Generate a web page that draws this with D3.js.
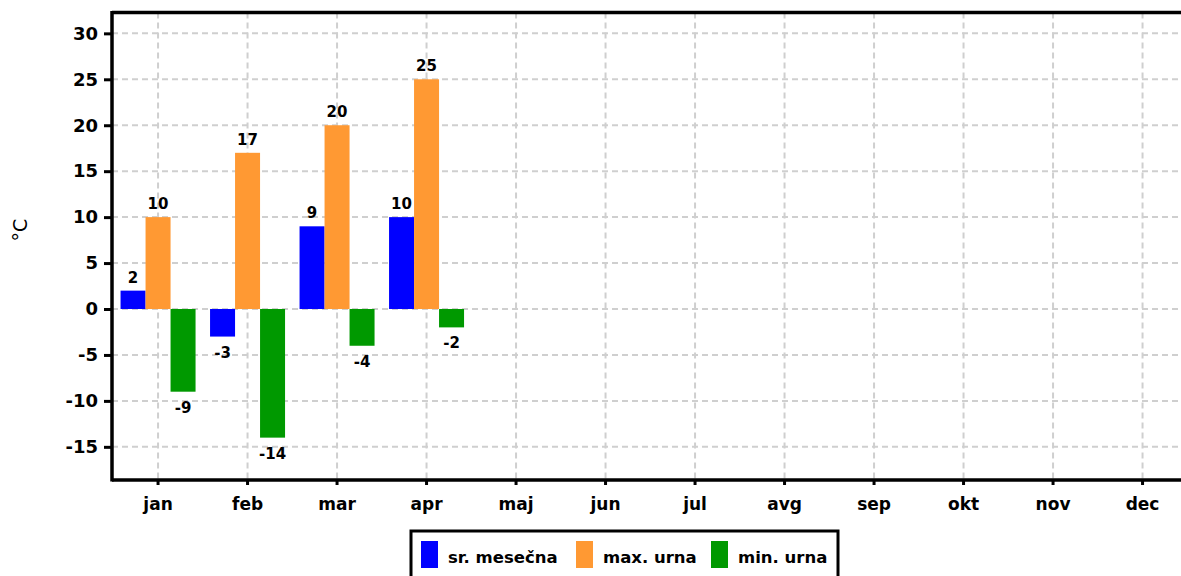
<!DOCTYPE html>
<html>
<head>
<meta charset="utf-8">
<script src="https://cdn.jsdelivr.net/npm/d3@7"></script>
<style>
  body { margin: 0; background: #fff; }
  text { font-family: "DejaVu Sans", sans-serif; }
</style>
</head>
<body>
<div id="viz"></div>
<script>
const months = ['jan', 'feb', 'mar', 'apr', 'maj', 'jun', 'jul', 'avg', 'sep', 'okt', 'nov', 'dec'];
const seriesNames = ['sr. mesečna', 'max. urna', 'min. urna'];
const avgTemp = [2, -3, 9, 10];
const maxTemp = [10, 17, 20, 25];
const minTemp = [-9, -14, -4, -2];
const yTicks = [-15, -10, -5, 0, 5, 10, 15, 20, 25, 30];
const colors = ['#0000ff', '#ff9933', '#009900'];

const width = 1181;
const height = 576;
const plotLeft = 112;
const plotTop = 12.5;
const plotBottom = 480;

const svg = d3.select('#viz')
      .append('svg')
      .attr('width', width)
      .attr('height', height);

const x0 = d3.scaleBand()
      .domain(months)
      .range([113.3, 1187.3]);

const bw = x0.bandwidth();
const groupW = 75;
const x1 = d3.scaleBand()
      .domain(seriesNames)
      .range([(bw - groupW) / 2, (bw + groupW) / 2]);

const y = d3.scaleLinear()
      .domain([-18.61, 32.27])
      .range([plotBottom, plotTop]);

// grid
const grid = svg.append('g')
      .attr('stroke', '#cfcfcf')
      .attr('stroke-width', 2)
      .attr('stroke-dasharray', '6,4');

grid.selectAll('line.h')
    .data(yTicks)
    .join('line')
    .attr('class', 'h')
    .attr('x1', plotLeft)
    .attr('x2', width)
    .attr('y1', d => y(d))
    .attr('y2', d => y(d));

grid.selectAll('line.v')
    .data(months)
    .join('line')
    .attr('class', 'v')
    .attr('x1', d => x0(d) + bw / 2)
    .attr('x2', d => x0(d) + bw / 2)
    .attr('y1', plotTop)
    .attr('y2', plotBottom);

// bars
const rows = [];
months.forEach((m, i) => {
  [avgTemp, maxTemp, minTemp].forEach((arr, s) => {
    if (arr[i] !== undefined) rows.push({ month: m, series: seriesNames[s], value: arr[i], color: colors[s] });
  });
});

svg.append('g')
    .selectAll('rect')
    .data(rows)
    .join('rect')
    .attr('x', d => x0(d.month) + x1(d.series))
    .attr('width', x1.bandwidth())
    .attr('y', d => y(Math.max(0, d.value)))
    .attr('height', d => Math.abs(y(d.value) - y(0)))
    .attr('fill', d => d.color);

svg.append('g')
    .selectAll('text')
    .data(rows)
    .join('text')
    .attr('x', d => x0(d.month) + x1(d.series) + x1.bandwidth() / 2)
    .attr('y', d => d.value >= 0 ? y(d.value) - 8 : y(d.value) + 21)
    .attr('text-anchor', 'middle')
    .attr('font-size', 15)
    .attr('font-weight', 'bold')
    .attr('fill', '#000')
    .text(d => d.value);

// axes
const yAxis = svg.append('g')
      .attr('transform', `translate(${plotLeft},0)`)
      .call(d3.axisLeft(y).tickValues(yTicks).tickSize(8).tickPadding(6).tickFormat(d => d < 0 ? '-' + Math.abs(d) : d));
yAxis.select('.domain').remove();
yAxis.selectAll('.tick line').attr('stroke', '#000').attr('stroke-width', 3);
yAxis.selectAll('.tick text')
    .attr('font-size', 18)
    .attr('font-weight', 'bold')
    .attr('font-family', '"DejaVu Sans", sans-serif')
    .attr('fill', '#000');

const xAxis = svg.append('g')
      .attr('transform', `translate(0,${plotBottom})`)
      .call(d3.axisBottom(x0).tickSize(5).tickPadding(13));
xAxis.select('.domain').remove();
xAxis.selectAll('.tick line').attr('stroke', '#000').attr('stroke-width', 3);
xAxis.selectAll('.tick text')
    .attr('font-size', 17)
    .attr('font-weight', 'bold')
    .attr('font-family', '"DejaVu Sans", sans-serif')
    .attr('fill', '#000');

// frame lines
const frame = svg.append('g').attr('stroke', '#000').attr('stroke-width', 3.5);
frame.append('line').attr('x1', plotLeft).attr('x2', plotLeft).attr('y1', plotTop - 1.5).attr('y2', plotBottom + 1.5);
frame.append('line').attr('x1', plotLeft).attr('x2', width).attr('y1', plotTop).attr('y2', plotTop);
frame.append('line').attr('x1', plotLeft).attr('x2', width).attr('y1', plotBottom).attr('y2', plotBottom);

// y title
svg.append('text')
    .attr('transform', 'translate(27,230) rotate(-90)')
    .attr('text-anchor', 'middle')
    .attr('font-size', 19)
    .attr('fill', '#000')
    .text('°C');

// legend
const legend = svg.append('g');
legend.append('rect')
    .attr('x', 411)
    .attr('y', 531)
    .attr('width', 427)
    .attr('height', 60)
    .attr('fill', '#fff')
    .attr('stroke', '#000')
    .attr('stroke-width', 3);

const legendX = [421, 576, 711];
seriesNames.forEach((name, i) => {
  legend.append('rect')
      .attr('x', legendX[i])
      .attr('y', 541)
      .attr('width', 17)
      .attr('height', 27)
      .attr('fill', colors[i]);
  legend.append('text')
      .attr('x', legendX[i] + 27)
      .attr('y', 563)
      .attr('font-size', 16.5)
      .attr('font-weight', 'bold')
      .attr('fill', '#000')
      .text(name);
});
</script>
</body>
</html>
